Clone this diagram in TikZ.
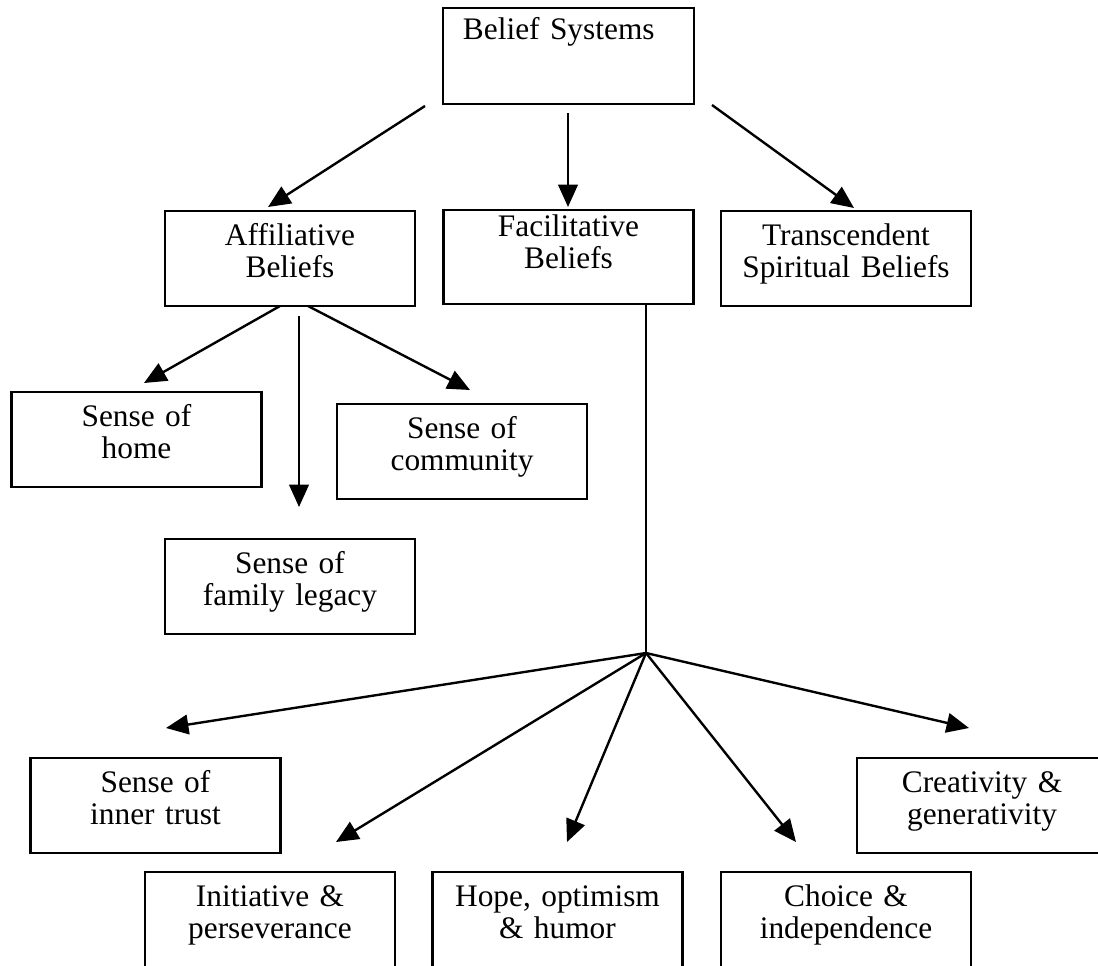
\documentclass[tikz,border=0pt]{standalone}
\usepackage{fontspec}
\setmainfont{Liberation Serif}
\usetikzlibrary{arrows.meta}

\begin{document}
\begin{tikzpicture}[
  x=0.025cm, y=-0.025cm,
  box/.style={draw, line width=1.5pt, anchor=north, inner xsep=0pt,
    inner ysep=0pt, text width=6.25cm, align=center,
    text height=0.85cm, text depth=1.525cm,
    font=\fontsize{22.3}{22.8}\selectfont},
  cutbox/.style={box, text depth=2.3cm},
  edge/.style={line width=1.7pt},
  arrow/.style={edge, -{Triangle[length=0.56cm, width=0.49cm]}},
]
  \useasboundingbox (0,0) rectangle (1098,966);
  % Root
  \node[box, align=left, inner xsep=0.5cm, text width=5.275cm,
    text height=0.78cm, text depth=1.62cm] (bs) at (568.5,7)
    {Belief Systems};
  % Second row
  \node[box] (aff) at (290,210) {Affiliative\\Beliefs};
  \node[box, text height=0.65cm, text depth=1.7cm] (fac) at (568.5,209)
    {Facilitative\\Beliefs};
  \node[box] (tra) at (846,210) {Transcendent\\Spiritual Beliefs};
  % Affiliative children
  \node[box] (home) at (136.5,391) {Sense of\\home};
  \node[box] (comm) at (462,403) {Sense of\\community};
  \node[box] (leg) at (290,538) {Sense of\\family legacy};
  % Facilitative children
  \node[box] (trust) at (155.5,757) {Sense of\\inner trust};
  \node[box] (crea) at (982,757) {Creativity \&\\generativity};
  \node[cutbox] (init) at (270,871) {Initiative \&\\perseverance};
  \node[cutbox] (hope) at (557.5,871) {Hope, optimism\\\& humor};
  \node[cutbox] (choice) at (846,871) {Choice \&\\independence};
  % Free ends of the connectors
  \coordinate (bs-1) at (425,106);  \coordinate (aff-in) at (268,207);
  \coordinate (bs-2) at (568,113);  \coordinate (fac-in) at (568,207);
  \coordinate (bs-3) at (712,105);  \coordinate (tra-in) at (854,208);
  \coordinate (aff-1) at (280,306); \coordinate (home-in) at (144,383);
  \coordinate (aff-2) at (299,316); \coordinate (leg-in) at (299,507);
  \coordinate (aff-3) at (308,306); \coordinate (comm-in) at (470,390);
  \coordinate (fac-out) at (646,303); \coordinate (j) at (646,653);
  \coordinate (trust-in) at (166,728);
  \coordinate (init-in) at (336,842);
  \coordinate (hope-in) at (567,842);
  \coordinate (choice-in) at (796,842);
  \coordinate (crea-in) at (969,728);
  % Edges root -> second row
  \draw[arrow] (bs-1) -- (aff-in);
  \draw[arrow] (bs-2) -- (fac-in);
  \draw[arrow] (bs-3) -- (tra-in);
  % Edges affiliative -> children
  \draw[arrow] (aff-1) -- (home-in);
  \draw[arrow] (aff-2) -- (leg-in);
  \draw[arrow] (aff-3) -- (comm-in);
  % Edges facilitative -> children
  \draw[edge] (fac-out) -- (j);
  \draw[arrow] (j) -- (trust-in);
  \draw[arrow] (j) -- (init-in);
  \draw[arrow] (j) -- (hope-in);
  \draw[arrow] (j) -- (choice-in);
  \draw[arrow] (j) -- (crea-in);
\end{tikzpicture}
\end{document}
